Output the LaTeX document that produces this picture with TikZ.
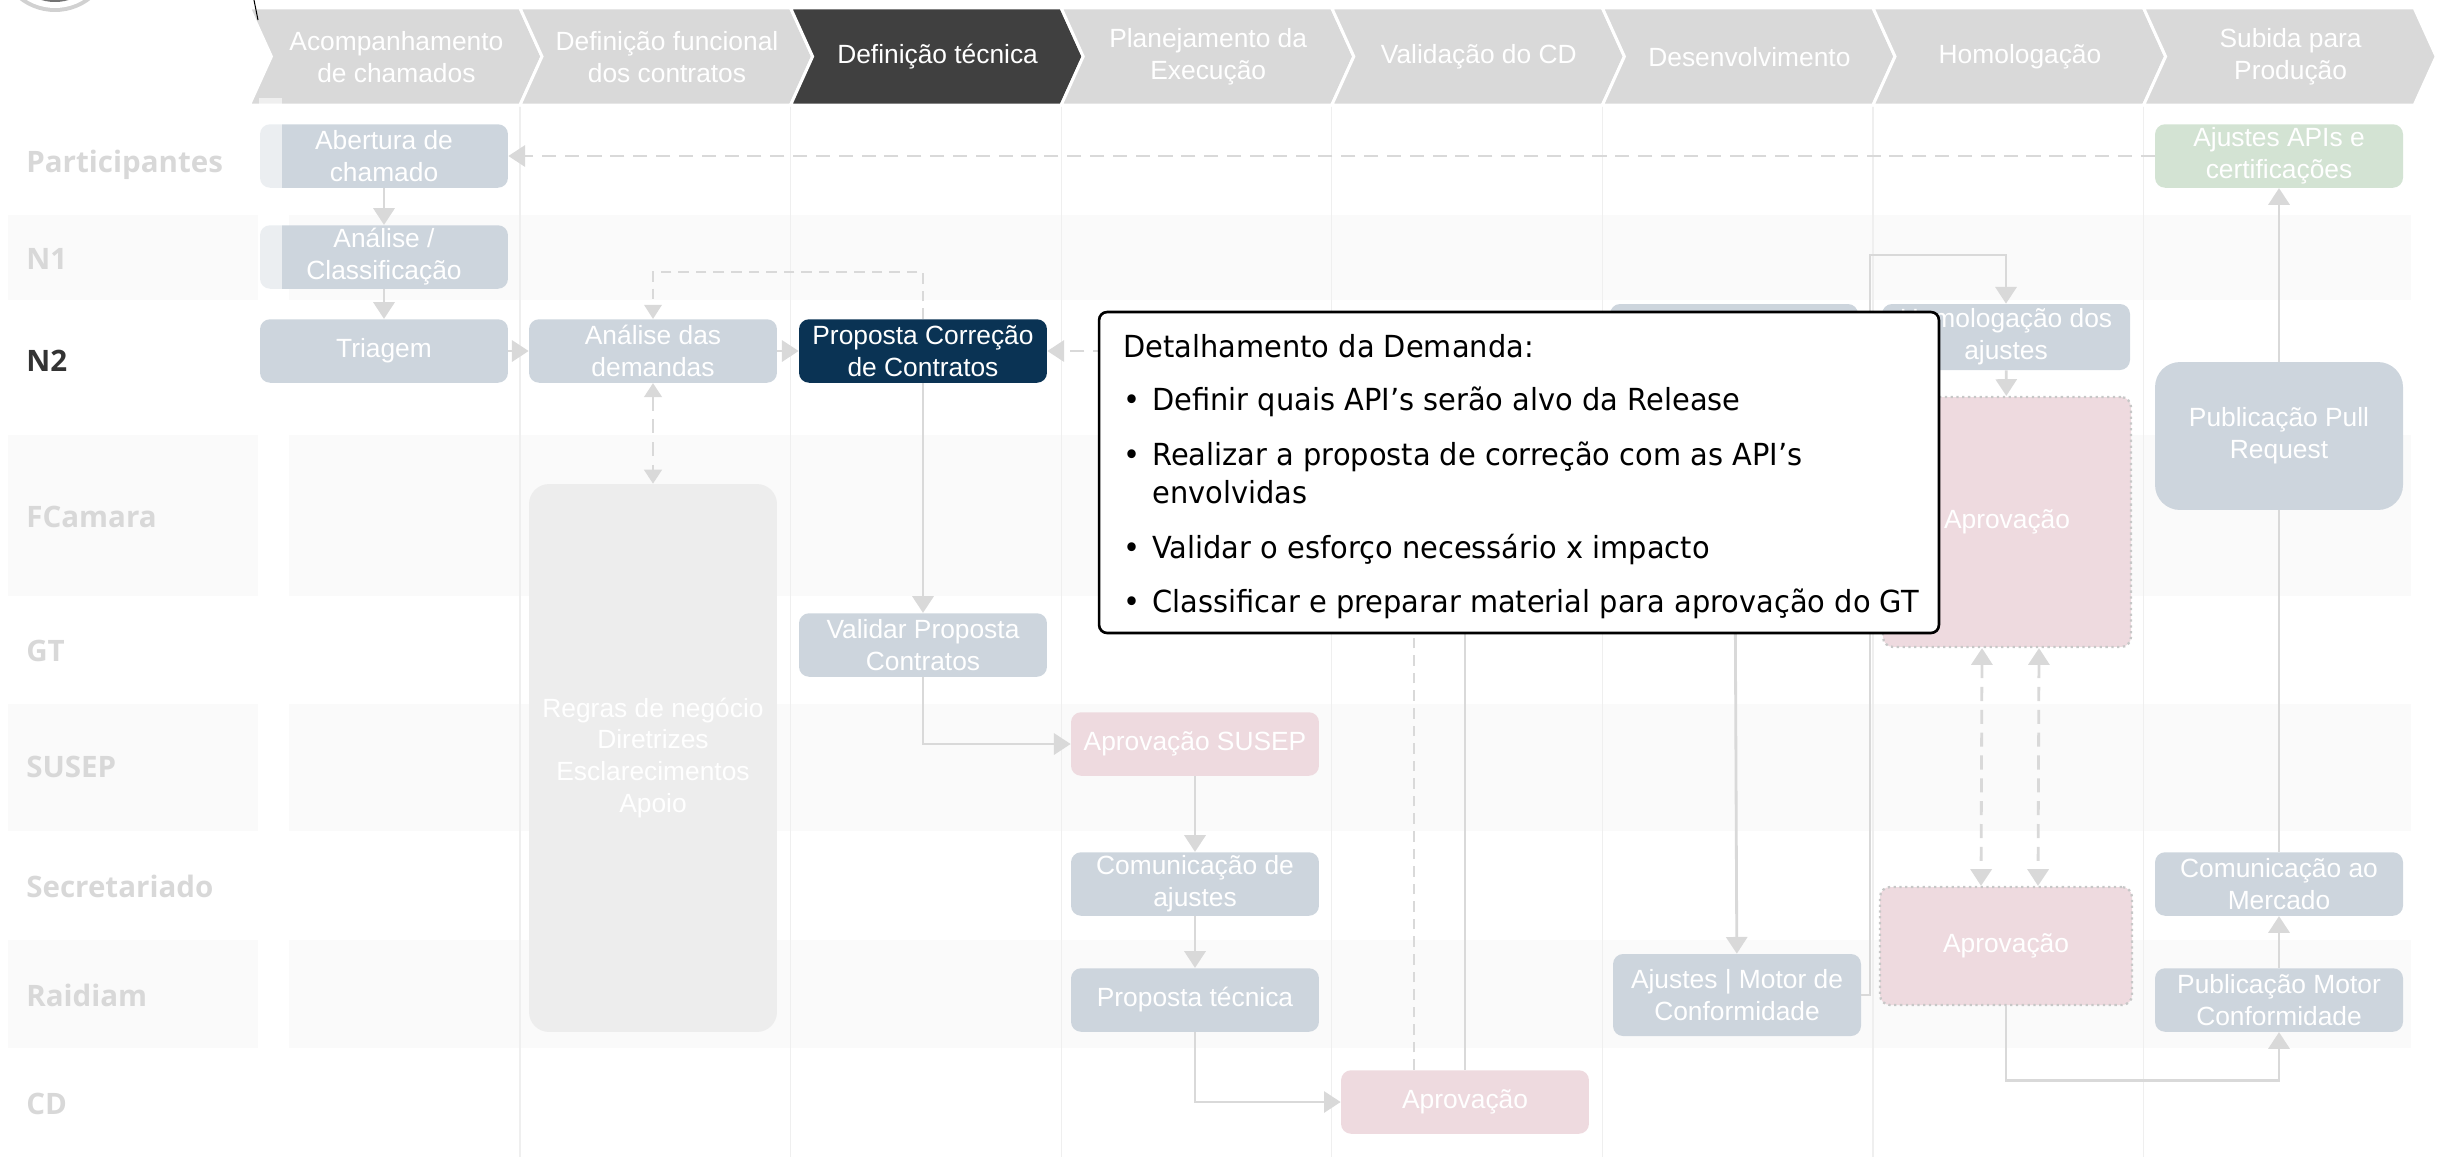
\documentclass[tikz,border=0pt]{standalone}
\usepackage{fontspec}
\setmainfont{Liberation Sans}
\newfontfamily\lanefont{Open Sans}
\newfontfamily\notefont[FakeStretch=0.95]{DejaVu Sans}
\usetikzlibrary{arrows.meta,calc,shadows}
\definecolor{phasegray}{HTML}{D9D9D9}
\definecolor{phasedark}{HTML}{404040}
\definecolor{slate}{HTML}{CDD5DD}
\definecolor{navy}{HTML}{0A3354}
\definecolor{rose}{HTML}{EEDADF}
\definecolor{sage}{HTML}{D3E3D3}
\definecolor{cloud}{HTML}{EDEDED}
\definecolor{band}{HTML}{FAFAFA}
\definecolor{lanegray}{HTML}{D8D8D8}
\definecolor{wire}{HTML}{D9D9D9}
\definecolor{gridline}{HTML}{EFEFEF}
\tikzset{
   phasebox/.style={text=white, align=center, inner sep=0pt, font=\fontsize{15}{18.2}\selectfont},
   lanelabel/.style={anchor=base west, text=lanegray, inner sep=0pt,
                     font=\lanefont\bfseries\fontsize{16.8}{19}\selectfont},
   taskbox/.style={rounded corners=0.2cm, fill=slate, text=white, align=center, inner sep=0pt,
                   minimum width=4.96cm, minimum height=1.27cm, font=\fontsize{15}{18.2}\selectfont},
   navybox/.style={taskbox, fill=navy},
   rosebox/.style={taskbox, fill=rose},
   votebox/.style={rosebox, draw=black!22, dotted, line width=1.3pt},
   sagebox/.style={taskbox, fill=sage},
   notebox/.style={draw=black, line width=1.5pt, fill=white, rounded corners=0.16cm,
                   drop shadow={shadow xshift=0.6pt, shadow yshift=-0.6pt, opacity=0.35}},
   notetext/.style={anchor=base west, inner sep=0pt, font=\notefont\fontsize{17.3}{21}\selectfont},
   flow/.style={draw=wire, line width=1.6pt, -{Triangle[length=9.5pt,width=12pt]}},
   dflow/.style={flow, dash pattern=on 8pt off 5pt},
   dthin/.style={draw=wire, line width=1pt, dash pattern=on 6pt off 4pt},
   plain/.style={draw=wire, line width=1.6pt}
}
\begin{document}
\begin{tikzpicture}[x=0.02cm, y=-0.02cm]
\useasboundingbox (0,0) rectangle (2440,1157);
\fill[black!18] (55,-46) circle (1.16cm);
\fill[white] (55,-46) circle (1.08cm);
\fill[black!55] (55,-46) circle (0.96cm);
\foreach \ya/\yb in {215/300,435/596,704/831,940/1048}{
  \fill[band] (8,\ya) rectangle (258,\yb);
  \fill[band] (289,\ya) rectangle (2411,\yb);
}
\foreach \k in {1,...,7}
  \draw[gridline, line width=0.6pt] ({249.4+270.6*\k},105) -- ++(0,1052);
\foreach \i/\name in {0/{Acompanhamento\\de chamados},1/{Definição funcional\\dos contratos},
    2/{Definição técnica},3/{Planejamento da\\Execução},4/{Validação do CD},
    5/{Desenvolvimento},6/{Homologação},7/{Subida para\\Produção}}{
  \pgfmathsetmacro\xa{249.4+270.6*\i}
  \ifnum\i=2 \def\phcol{phasedark}\else\def\phcol{phasegray}\fi
  \filldraw[fill=\phcol, draw=white, line width=1.7pt] (\xa,8) -- ++(270.6,0) -- ++(22,48.5)
    -- ++(-22,48.5) -- ++(-270.6,0) -- ++(22,-48.5) -- cycle;
  \node[phasebox] (ph\i) at (\xa+147,57) {\name};
}
\draw[black, line width=0.6pt] (254,0) -- (258,20);
\foreach \nm/\yb in {Participantes/172,N1/269,FCamara/527,GT/661,SUSEP/777,Secretariado/897,Raidiam/1006,CD/1114}
  \node[lanelabel] (lane\nm) at (26,\yb) {\nm};
\node[lanelabel, text=black!80] (laneN2) at (26,371) {N2};

\node[taskbox] (abertura) at (384,156) {Abertura de\\chamado};
\node[taskbox] (classif) at (384,257) {Análise /\\Classificação};
\node[taskbox] (triagem) at (384,351) {Triagem};
\node[taskbox] (demandas) at (653,351) {Análise das\\demandas};
\node[taskbox, fill=cloud, rounded corners=0.4cm, minimum height=10.96cm] (regras) at (653,758)
  {Regras de negócio\\Diretrizes\\Esclarecimentos\\Apoio};
\node[navybox] (proposta) at (923,351) {Proposta Correção\\de Contratos};
\node[taskbox] (validar) at (923,645) {Validar Proposta\\Contratos};
\node[rosebox] (susep) at (1195,744) {Aprovação SUSEP};
\node[taskbox] (comunica) at (1195,884) {Comunicação de\\ajustes};
\node[taskbox] (tecnica) at (1195,1000) {Proposta técnica};
\node[rosebox] (aprovcd) at (1465,1102) {Aprovação};
\node[taskbox, minimum height=1.32cm] (dev) at (1734,337) {};
\node[taskbox, minimum height=1.64cm] (motor) at (1737,995) {Ajustes | Motor de\\Conformidade};
\node[taskbox, minimum height=1.32cm] (homolog) at (2006,337) {Homologação dos\\ajustes};
\node[votebox, minimum height=5cm] (aprovtop) at (2007,522) {Aprovação};
\node[votebox, minimum width=5.04cm, minimum height=2.36cm] (aprovlow) at (2006,946) {Aprovação};
\node[sagebox] (apis) at (2279,156) {Ajustes APIs e\\certificações};
\node[taskbox, rounded corners=0.5cm, minimum height=2.96cm] (pull) at (2279,436) {Publicação Pull\\Request};
\node[taskbox] (mercado) at (2279,884) {Comunicação ao\\Mercado};
\node[taskbox] (pubmotor) at (2279,1000) {Publicação Motor\\Conformidade};

\draw[flow] (abertura) -- (classif);
\draw[flow] (classif) -- (triagem);
\draw[flow] (triagem) -- (demandas);
\draw[flow] (demandas) -- (proposta);
\draw[dthin, -{Triangle[length=8pt,width=10pt]}] (proposta.north) -- ++(0,-47) -| (demandas.north);
\draw[dflow, {Triangle[length=8pt,width=10pt]}-{Triangle[length=8pt,width=10pt]}] (demandas.south) -- (regras.north);
\draw[dflow] (dev.west |- proposta.east) -- (proposta.east);
\draw[flow] (proposta) -- (validar);
\draw[flow] (validar) |- (susep);
\draw[flow] (susep) -- (comunica);
\draw[flow] (comunica) -- (tecnica);
\draw[flow] (tecnica) |- (aprovcd);
\draw[dthin] ([xshift=-1.02cm]aprovcd.north) |- (dev.west);
\draw[plain] (aprovcd.north) |- ([yshift=-0.3cm]dev.west);
\draw[flow] (dev) -- (motor);
\coordinate (loop) at (1870,255);
\draw[flow] (motor.east) -| (loop) -| (homolog.north);
\draw[flow] (homolog) -- (aprovtop);
\draw[dflow, {Triangle[length=9.5pt,width=12pt]}-{Triangle[length=9.5pt,width=12pt]}]
  ([xshift=-0.5cm]aprovtop.south) -- ([xshift=-0.5cm]aprovlow.north);
\draw[dflow, {Triangle[length=9.5pt,width=12pt]}-{Triangle[length=9.5pt,width=12pt]}]
  ([xshift=0.64cm]aprovtop.south) -- ([xshift=0.64cm]aprovlow.north);
\draw[flow] (aprovlow.south) -- ++(0,74) -| (pubmotor.south);
\draw[flow] (pubmotor) -- (mercado);
\draw[plain] (mercado) -- (pull);
\draw[flow] (pull) -- (apis);
\draw[dflow] (apis.west) -- (abertura.east);
\fill[white, opacity=0.6] (259,98) rectangle (282,300);

\node[notebox, minimum width=16.8cm, minimum height=6.42cm] (note) at (1519,472.5) {};
\node[notetext] (notehead) at (1123,357) {Detalhamento da Demanda:};
\node[notetext] (note1) at (1123,410) {\makebox[0.58cm][l]{•}Definir quais API’s serão alvo da Release};
\node[notetext] (note2) at (1123,465) {\makebox[0.58cm][l]{•}Realizar a proposta de correção com as API’s};
\node[notetext] (note2b) at (1152,503) {envolvidas};
\node[notetext] (note3) at (1123,558) {\makebox[0.58cm][l]{•}Validar o esforço necessário x impacto};
\node[notetext] (note4) at (1123,612) {\makebox[0.58cm][l]{•}Classificar e preparar material para aprovação do GT};
\end{tikzpicture}
\end{document}
